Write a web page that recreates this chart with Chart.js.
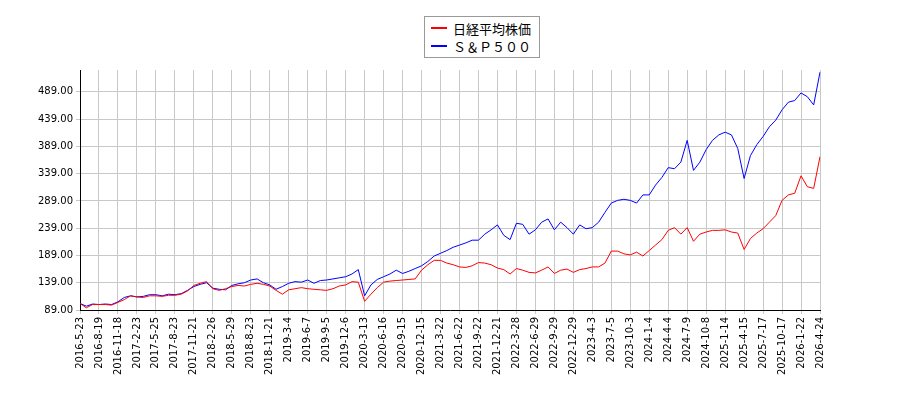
<!DOCTYPE html>
<html>
<head>
<meta charset="utf-8">
<script src="https://cdn.jsdelivr.net/npm/chart.js@4"></script>
<style>
  body { margin: 0; background: #fff; }
  #wrap { position: relative; width: 900px; height: 400px; }
  #legend { position: absolute; left: 424px; top: 16px; width: 114px; border: 1px solid #999; background: #fff;
    font: 13px "Noto Sans CJK JP", sans-serif; padding: 2px 0 2px 0; }
  .item { display: flex; align-items: center; height: 18px; }
  .sw { width: 16px; height: 2px; margin: 0 6px 0 6px; }
</style>
</head>
<body>
<div id="wrap">
  <canvas id="c" width="900" height="400"></canvas>
  <div id="legend">
    <div class="item"><span class="sw" style="background:#ff0000"></span>日経平均株価</div>
    <div class="item"><span class="sw" style="background:#0000ff"></span>Ｓ＆Ｐ５００</div>
  </div>
</div>
<script>
const tickDates = ['2016-5-23','2016-8-19','2016-11-18','2017-2-23','2017-5-25','2017-8-23','2017-11-21','2018-2-26',
  '2018-5-29','2018-8-23','2018-11-21','2019-3-4','2019-6-7','2019-9-5','2019-12-6','2020-3-13','2020-6-16',
  '2020-9-15','2020-12-15','2021-3-22','2021-6-22','2021-9-22','2021-12-21','2022-3-28','2022-6-29','2022-9-29',
  '2022-12-29','2023-4-3','2023-7-5','2023-10-3','2024-1-4','2024-4-4','2024-7-9','2024-10-8','2025-1-14',
  '2025-4-15','2025-7-17','2025-10-17','2026-1-22','2026-4-24'];

// three samples per tick interval
const nikkei = [
  101,93,99, 99,99,98, 103,108,115, 113,112,115, 115,114,116, 116,118,124, 134,138,141, 128,125,128,
  132,134,133, 136,138,136, 133,125,118, 126,128,130, 128,127,126, 125,128,133, 135,141,140,
  105,118,130, 140,142,143, 144,145,146, 162,172,180, 180,175,172, 168,167,170, 176,175,172,
  166,163,155, 165,162,158, 157,162,168, 156,162,164, 158,163,165, 168,168,175, 197,197,192,
  190,195,188, 198,208,218, 235,240,228, 240,215,228, 232,235,235, 236,232,230, 200,220,230,
  238,250,262, 290,300,303, 335,315,312, 370
];
const sp500 = [
  101,96,100, 99,100,99, 104,112,115, 113,114,117, 117,115,118, 117,119,125, 132,136,139, 129,127,126,
  134,137,139, 144,146,139, 135,127,132, 138,141,140, 144,138,143, 144,146,148, 150,155,163,
  115,135,145, 150,155,162, 156,160,165, 170,178,188, 193,198,204, 208,212,217, 217,228,236,
  245,226,218, 248,246,228, 236,250,256, 236,250,240, 228,245,238, 240,250,268, 285,290,292,
  290,285,300, 300,318,332, 350,348,360, 400,345,360, 383,400,410, 415,410,385, 330,372,392,
  407,425,437, 456,470,473, 487,480,465, 525
];
const yTicks = [89, 139, 189, 239, 289, 339, 389, 439, 489];
const labels = nikkei.map((_, i) => i % 3 === 0 ? tickDates[i / 3] : '');
const yMin = 89, yMax = 529;

new Chart(document.getElementById('c'), {
  type: 'line',
  data: {
    labels: labels,
    datasets: [
      { label: '日経平均株価', data: nikkei, borderColor: '#ff0000', borderWidth: 1, pointRadius: 0, tension: 0 },
      { label: 'Ｓ＆Ｐ５００', data: sp500, borderColor: '#0000ff', borderWidth: 1, pointRadius: 0, tension: 0 }
    ]
  },
  options: {
    responsive: false, animation: false,
    layout: { padding: { top: 70, right: 80, left: 0, bottom: 0 } },
    plugins: { legend: { display: false }, tooltip: { enabled: false } },
    scales: {
      x: {
        offset: false,
        grid: { color: ctx => labels[ctx.index] ? '#c8c8c8' : 'rgba(0,0,0,0)', tickLength: 4 },
        border: { color: '#000' },
        ticks: { autoSkip: false, minRotation: 90, maxRotation: 90, color: '#000',
          font: { family: 'DejaVu Sans', size: 10 } },
        afterFit: s => { s.height = 90; }
      },
      y: {
        min: yMin, max: yMax,
        afterBuildTicks: s => { s.ticks = yTicks.map(v => ({ value: v })); },
        grid: { color: '#c8c8c8', tickLength: 4 },
        border: { color: '#000' },
        ticks: { color: '#000', font: { family: 'DejaVu Sans', size: 10 },
          callback: v => v.toFixed(2) },
        afterFit: s => { s.width = 80; }
      }
    }
  }
});
</script>
</body>
</html>
